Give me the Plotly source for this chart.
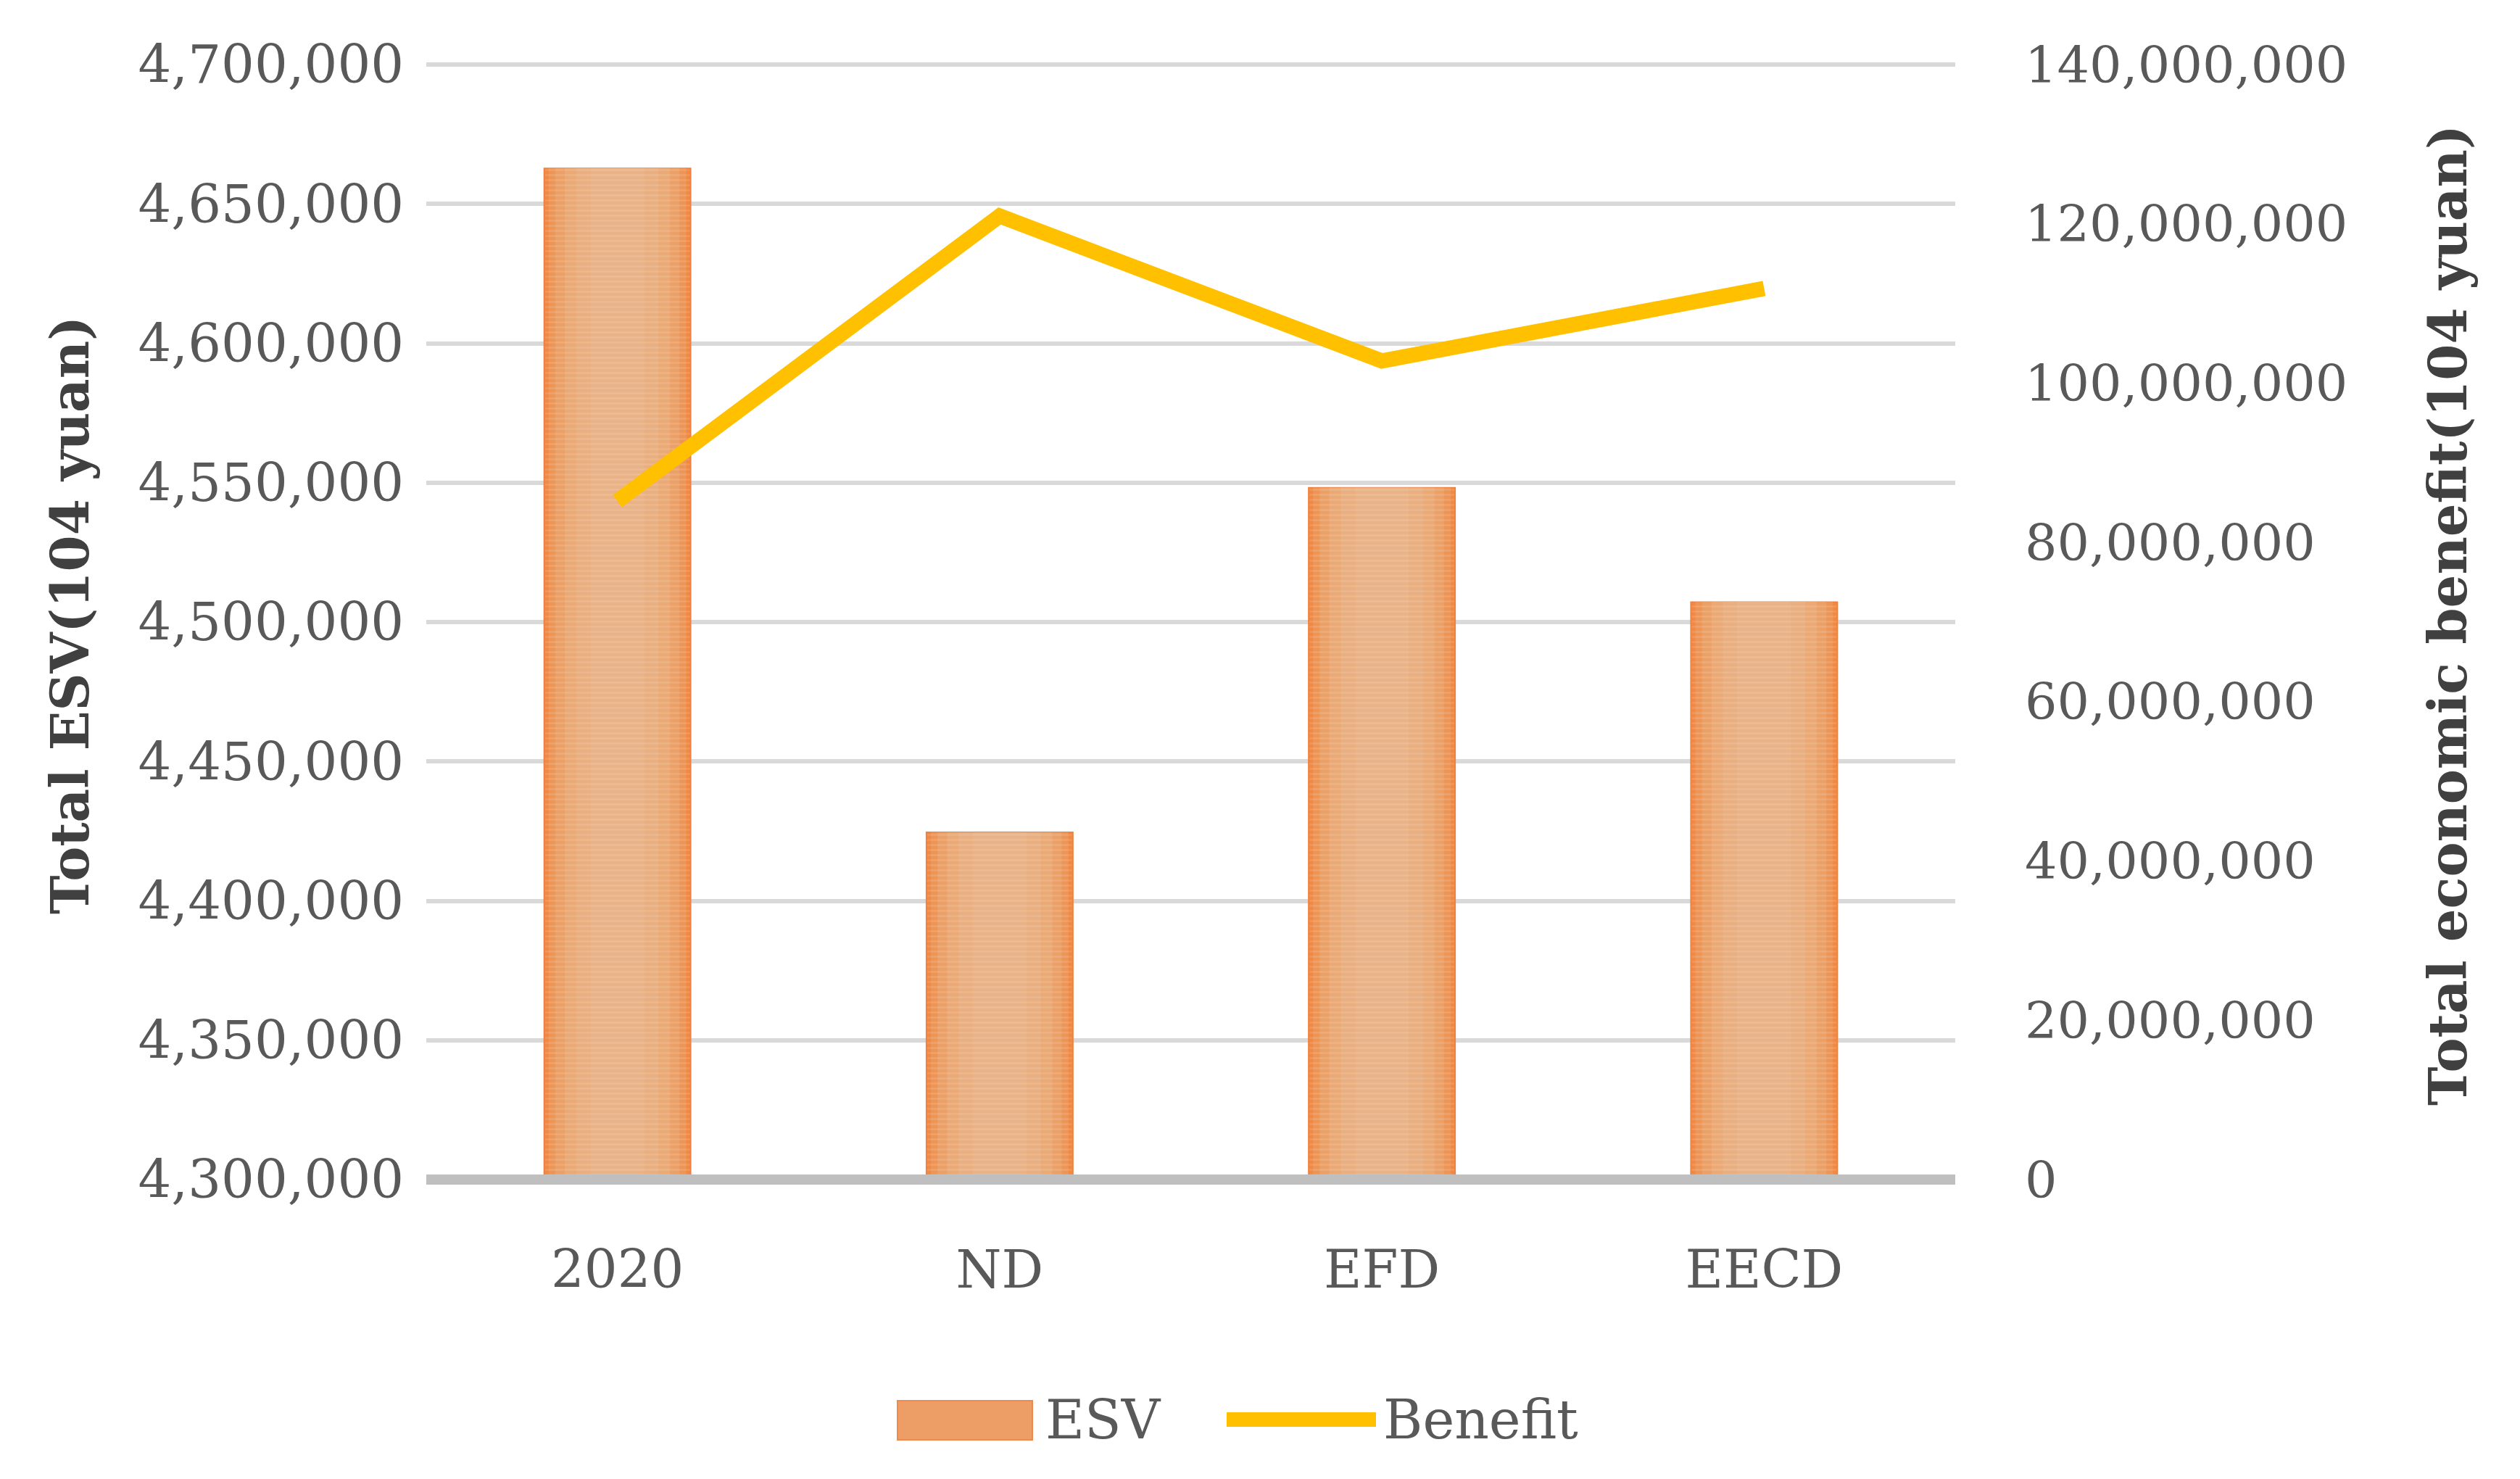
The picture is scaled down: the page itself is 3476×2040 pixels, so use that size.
import plotly.graph_objects as go

# ---- data ----
categories = ["2020", "ND", "EFD", "EECD"]
esv = [4662800, 4424600, 4548200, 4507200]
benefit = [85200000, 121000000, 102800000, 111900000]
left_ticks = list(range(4300000, 4700001, 50000))
right_ticks = list(range(0, 140000001, 20000000))
left_ticktext = [f"{v:,}" for v in left_ticks]
right_ticktext = [f"{v:,}" if v else "0" for v in right_ticks]

W, H = 3476, 2040
# plot area: x 588..2697, y (4,700,000 line) 89 .. (4,300,000 line) 1627
EXT = 0.0125  # small headroom so the top gridline is drawn
L0, L1 = left_ticks[0], left_ticks[-1]
R0, R1 = right_ticks[0], right_ticks[-1]
ML, MR, MB = 588, W - 2697, H - 1627
inner = 1627 - 89
MT = round(89 - inner * EXT)
PW, PH = W - ML - MR, H - MT - MB


def px(X):
    return (X - ML) / PW


def py(Y):
    return (H - MB - Y) / PH


FONT = "DejaVu Serif"
TXT = "#595959"

fig = go.Figure()

# bars drawn as nested-width layers to mimic the gradient fill
layers = [(0.383, "#EF8944"), (0.36, "#ED9556"), (0.325, "#EBA067"),
          (0.275, "#EAA975"), (0.215, "#E9AF80"), (0.14, "#E9B387")]
for i, (w, c) in enumerate(layers):
    fig.add_trace(go.Bar(
        x=categories, y=esv, width=w, name="ESV",
        marker=dict(color=c,
                    line=dict(color="#EF8240" if i == 0 else c, width=2 if i == 0 else 0),
                    pattern=dict(shape="-", fgcolor="#FFFFFF", fgopacity=0.12, size=7, solidity=0.35)),
        showlegend=False, hoverinfo="skip" if i else None,
    ))

fig.add_trace(go.Scatter(
    x=categories, y=benefit, yaxis="y2", mode="lines", name="Benefit",
    line=dict(color="#FFC000", width=21), showlegend=False, cliponaxis=False,
))

fig.update_layout(
    width=W, height=H, autosize=False,
    margin=dict(l=ML, r=MR, t=MT, b=MB),
    paper_bgcolor="white", plot_bgcolor="white",
    barmode="overlay",
    font=dict(family=FONT, color=TXT, size=72),
    xaxis=dict(
        showline=False, showgrid=False, zeroline=False,
        ticks="", tickfont=dict(size=72, color=TXT), ticklabelstandoff=76,
    ),
    yaxis=dict(
        range=[L0, L1 + (L1 - L0) * EXT], tickvals=left_ticks, ticktext=left_ticktext,
        showgrid=True, gridcolor="#D9D9D9", gridwidth=6, zeroline=False,
        showline=False, ticks="", tickfont=dict(size=72, color=TXT),
        ticklabelstandoff=30,
        title=dict(text="<b>Total ESV(104 yuan)</b>", font=dict(size=72, color="#404040"), standoff=44),
    ),
    yaxis2=dict(
        overlaying="y", side="right", range=[R0, R1 + (R1 - R0) * EXT],
        tickvals=right_ticks, ticktext=right_ticktext, showgrid=False, zeroline=False,
        showline=False, ticks="", tickfont=dict(size=70, color=TXT),
        ticklabelstandoff=95,
        title=dict(text="<b>Total economic benefit(104 yuan)</b>", font=dict(size=72, color="#404040"), standoff=114),
    ),
    showlegend=False,
)

# horizontal category axis line (thick grey base line)
fig.add_shape(type="line", xref="paper", yref="paper", x0=0, x1=1, y0=0, y1=0,
              line=dict(color="#BFBFBF", width=14), layer="above")

# custom legend
LY = 1958
fig.add_shape(type="rect", xref="paper", yref="paper",
              x0=px(1238), x1=px(1424), y0=py(1986), y1=py(1932),
              fillcolor="#EC9E66", line=dict(color="#EE8A4A", width=2))
fig.add_annotation(xref="paper", yref="paper", x=px(1440), y=py(LY), xanchor="left", yanchor="middle",
                   text="ESV", showarrow=False, font=dict(size=74, color=TXT, family=FONT))
fig.add_shape(type="line", xref="paper", yref="paper",
              x0=px(1692), x1=px(1898), y0=py(LY), y1=py(LY),
              line=dict(color="#FFC000", width=20))
fig.add_annotation(xref="paper", yref="paper", x=px(1906), y=py(LY), xanchor="left", yanchor="middle",
                   text="Benefit", showarrow=False, font=dict(size=74, color=TXT, family=FONT))

fig.write_html("out.html", config={"displayModeBar": False},
               post_script="document.body.style.margin='0';document.body.style.overflow='hidden';")
